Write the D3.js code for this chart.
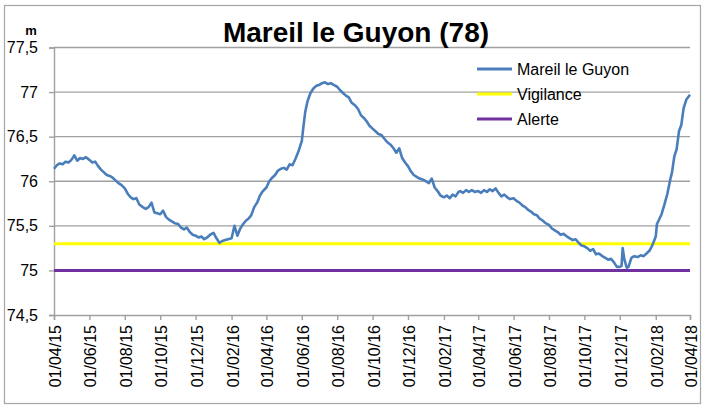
<!DOCTYPE html>
<html>
<head>
<meta charset="utf-8">
<script src="https://cdn.jsdelivr.net/npm/d3@7"></script>
<style>
  body { margin: 0; background: #fff; }
  svg { font-family: 'Liberation Sans', Arial, sans-serif; }
</style>
</head>
<body>
<div class="canvas"></div>
<script>
// piezometer readings (one line = one month)
const dates = [
  '2015-04-01','2015-04-06','2015-04-11','2015-04-16','2015-04-21','2015-04-26',
  '2015-05-01','2015-05-06','2015-05-11','2015-05-16','2015-05-21','2015-05-26',
  '2015-06-01','2015-06-06','2015-06-11','2015-06-16','2015-06-21','2015-06-26',
  '2015-07-01','2015-07-06','2015-07-11','2015-07-16','2015-07-21','2015-07-26',
  '2015-08-01','2015-08-06','2015-08-11','2015-08-16','2015-08-21','2015-08-26',
  '2015-09-01','2015-09-06','2015-09-11','2015-09-16','2015-09-21','2015-09-26',
  '2015-10-01','2015-10-06','2015-10-11','2015-10-16','2015-10-21','2015-10-26',
  '2015-11-01','2015-11-06','2015-11-11','2015-11-16','2015-11-21','2015-11-26',
  '2015-12-01','2015-12-06','2015-12-11','2015-12-16','2015-12-21','2015-12-26',
  '2016-01-01','2016-01-06','2016-01-11','2016-01-16','2016-01-21','2016-01-26',
  '2016-02-01','2016-02-06','2016-02-11','2016-02-16','2016-02-21','2016-02-26',
  '2016-03-01','2016-03-06','2016-03-11','2016-03-16','2016-03-21','2016-03-26',
  '2016-04-01','2016-04-06','2016-04-11','2016-04-16','2016-04-21','2016-04-26',
  '2016-05-01','2016-05-06','2016-05-11','2016-05-16','2016-05-21','2016-05-26',
  '2016-06-01','2016-06-04','2016-06-07','2016-06-11','2016-06-16','2016-06-21','2016-06-26',
  '2016-07-01','2016-07-06','2016-07-11','2016-07-16','2016-07-21','2016-07-26',
  '2016-08-01','2016-08-06','2016-08-11','2016-08-16','2016-08-21','2016-08-26',
  '2016-09-01','2016-09-06','2016-09-11','2016-09-16','2016-09-21','2016-09-26',
  '2016-10-01','2016-10-06','2016-10-11','2016-10-16','2016-10-21','2016-10-26',
  '2016-11-01','2016-11-06','2016-11-11','2016-11-16','2016-11-21','2016-11-26',
  '2016-12-01','2016-12-06','2016-12-11','2016-12-16','2016-12-21','2016-12-26',
  '2017-01-01','2017-01-06','2017-01-11','2017-01-16','2017-01-21','2017-01-26',
  '2017-02-01','2017-02-06','2017-02-11','2017-02-16','2017-02-21','2017-02-26',
  '2017-03-01','2017-03-06','2017-03-11','2017-03-16','2017-03-21','2017-03-26',
  '2017-04-01','2017-04-06','2017-04-11','2017-04-16','2017-04-21','2017-04-26',
  '2017-05-01','2017-05-06','2017-05-11','2017-05-16','2017-05-21','2017-05-26',
  '2017-06-01','2017-06-06','2017-06-11','2017-06-16','2017-06-21','2017-06-26',
  '2017-07-01','2017-07-06','2017-07-11','2017-07-16','2017-07-21','2017-07-26',
  '2017-08-01','2017-08-06','2017-08-11','2017-08-16','2017-08-21','2017-08-26',
  '2017-09-01','2017-09-06','2017-09-11','2017-09-16','2017-09-21','2017-09-26',
  '2017-10-01','2017-10-06','2017-10-11','2017-10-16','2017-10-21','2017-10-26',
  '2017-11-01','2017-11-06','2017-11-11','2017-11-16','2017-11-21','2017-11-26',
  '2017-12-01','2017-12-04','2017-12-06','2017-12-09','2017-12-13','2017-12-16','2017-12-21','2017-12-26',
  '2018-01-01','2018-01-06','2018-01-11','2018-01-16','2018-01-21','2018-01-26',
  '2018-02-01','2018-02-03','2018-02-06','2018-02-11','2018-02-16','2018-02-21','2018-02-26',
  '2018-03-01','2018-03-05','2018-03-09','2018-03-13','2018-03-17','2018-03-21','2018-03-26',
  '2018-04-01'
];

const levels = [
  76.14, 76.18, 76.20, 76.19, 76.22, 76.21,
  76.24, 76.29, 76.23, 76.26, 76.25, 76.27,
  76.24, 76.21, 76.22, 76.17, 76.13, 76.10,
  76.07, 76.06, 76.04, 76.01, 75.98, 75.96,
  75.92, 75.86, 75.82, 75.80, 75.81, 75.74,
  75.71, 75.69, 75.71, 75.76, 75.65, 75.64,
  75.63, 75.67, 75.60, 75.57, 75.55, 75.53,
  75.52, 75.48, 75.46, 75.48, 75.43, 75.40,
  75.39, 75.37, 75.38, 75.35, 75.37, 75.40,
  75.42, 75.36, 75.31, 75.33, 75.34, 75.35,
  75.36, 75.50, 75.39, 75.47, 75.52, 75.56,
  75.58, 75.62, 75.71, 75.76, 75.84, 75.89,
  75.93, 76.00, 76.04, 76.07, 76.12, 76.14,
  76.15, 76.13, 76.19, 76.18, 76.25, 76.33,
  76.45, 76.62, 76.78, 76.90, 76.99, 77.04, 77.07,
  77.08, 77.10, 77.11, 77.09, 77.10, 77.08,
  77.06, 77.02, 76.99, 76.96, 76.94, 76.88,
  76.85, 76.81, 76.74, 76.71, 76.67, 76.62,
  76.59, 76.56, 76.53, 76.52, 76.48, 76.44,
  76.41, 76.37, 76.32, 76.37, 76.26, 76.21,
  76.17, 76.11, 76.07, 76.05, 76.03, 76.02,
  76.00, 75.98, 76.03, 75.93, 75.89, 75.84,
  75.82, 75.84, 75.81, 75.85, 75.83, 75.88,
  75.89, 75.87, 75.90, 75.88, 75.90, 75.88,
  75.89, 75.87, 75.90, 75.88, 75.91, 75.89,
  75.92, 75.87, 75.83, 75.85, 75.82, 75.80,
  75.81, 75.78, 75.76, 75.73, 75.71, 75.68,
  75.66, 75.63, 75.62, 75.58, 75.56, 75.53,
  75.51, 75.47, 75.45, 75.43, 75.40, 75.41,
  75.38, 75.36, 75.34, 75.35, 75.31, 75.28,
  75.27, 75.25, 75.22, 75.24, 75.18, 75.19,
  75.16, 75.14, 75.12, 75.13, 75.09, 75.04,
  75.04, 75.05, 75.25, 75.12, 75.03, 75.04, 75.14, 75.16,
  75.15, 75.17, 75.16, 75.19, 75.22, 75.28,
  75.38, 75.52, 75.56, 75.63, 75.74, 75.86, 76.02,
  76.10, 76.28, 76.36, 76.56, 76.63, 76.82, 76.92,
  76.97
];

// series + thresholds
const seriesNames = ['Mareil le Guyon', 'Vigilance', 'Alerte'];
const seriesColors = ['#4a7ebb', '#ffff00', '#7030a0'];
const thresholds = [75.3, 75.0];

const yTicks = [74.5, 75, 75.5, 76, 76.5, 77, 77.5];

const dims = { width: 703, height: 408 };
const plot = { left: 54, right: 690, top: 47.5, bottom: 315 };

const svg = d3.select('.canvas')
    .append('svg')
    .attr('width', dims.width)
    .attr('height', dims.height);

// chart frame
svg.append('rect')
    .attr('x', 4.5).attr('y', 5.5)
    .attr('width', 696).attr('height', 398)
    .attr('fill', 'none')
    .attr('stroke', '#a6a6a6')
    .attr('stroke-width', 1.2);

const parse = d3.timeParse('%Y-%m-%d');
const data = dates.map((d, i) => ({ date: parse(d), value: levels[i] }));

const start = parse('2015-04-01');
const end = parse('2018-04-01');

const x = d3.scaleTime()
    .domain([start, end])
    .range([plot.left, plot.right]);

const y = d3.scaleLinear()
    .domain([74.5, 77.5])
    .range([plot.bottom, plot.top]);

const fmtY = d => d3.format('.1~f')(d).replace('.', ',');

// gridlines
svg.append('g')
  .selectAll('line')
  .data(yTicks.slice(1))
  .enter().append('line')
    .attr('x1', plot.left).attr('x2', plot.right)
    .attr('y1', d => y(d)).attr('y2', d => y(d))
    .attr('stroke', '#a0a0a0')
    .attr('stroke-width', 1.4);

// y axis
const yAxis = d3.axisLeft(y)
    .tickValues(yTicks)
    .tickSize(5)
    .tickPadding(11)
    .tickFormat(fmtY);

const yAxisGroup = svg.append('g')
    .attr('transform', `translate(${plot.left}, 0)`)
    .call(yAxis);

yAxisGroup.select('.domain').attr('stroke', '#a0a0a0').attr('stroke-width', 1.4);
yAxisGroup.selectAll('.tick line').attr('stroke', '#a0a0a0').attr('stroke-width', 1.4);
yAxisGroup.selectAll('text')
    .attr('fill', '#000')
    .style('font-size', '16px');

// x axis, one tick every two months from April 2015
const xAxis = d3.axisBottom(x)
    .tickValues(d3.timeMonth.range(start, d3.timeDay.offset(end, 1), 2))
    .tickSize(5)
    .tickFormat(d3.timeFormat('%d/%m/%y'));

const xAxisGroup = svg.append('g')
    .attr('transform', `translate(0, ${plot.bottom})`)
    .call(xAxis);

xAxisGroup.select('.domain').attr('stroke', '#a0a0a0').attr('stroke-width', 1.4);
xAxisGroup.selectAll('.tick line').attr('stroke', '#a0a0a0').attr('stroke-width', 1.4);
xAxisGroup.selectAll('text')
    .attr('fill', '#000')
    .style('font-size', '16px')
    .attr('text-anchor', 'end')
    .attr('dominant-baseline', 'central')
    .attr('transform', 'rotate(-90)')
    .attr('x', -10)
    .attr('y', 1)
    .attr('dy', null);

// threshold lines
svg.append('g')
  .selectAll('line')
  .data(thresholds)
  .enter().append('line')
    .attr('x1', plot.left).attr('x2', plot.right)
    .attr('y1', d => y(d)).attr('y2', d => y(d))
    .attr('stroke', (d, i) => seriesColors[i + 1])
    .attr('stroke-width', 3);

// level line
const line = d3.line()
    .x(d => x(d.date))
    .y(d => y(d.value));

svg.append('path')
    .datum(data)
    .attr('fill', 'none')
    .attr('stroke', seriesColors[0])
    .attr('stroke-width', 2.6)
    .attr('stroke-linejoin', 'round')
    .attr('d', line);

// title + unit
svg.append('text')
    .attr('x', 356).attr('y', 42)
    .attr('text-anchor', 'middle')
    .style('font-size', '28px')
    .style('font-weight', 'bold')
    .text('Mareil le Guyon (78)');

svg.append('text')
    .attr('x', 31).attr('y', 35)
    .attr('text-anchor', 'middle')
    .style('font-size', '13px')
    .style('font-weight', 'bold')
    .text('m');

// legend
const legendGroup = svg.append('g')
    .attr('transform', 'translate(477, 69)');

const items = legendGroup.selectAll('g')
    .data(seriesNames)
    .enter().append('g')
    .attr('transform', (d, i) => `translate(0, ${i * 25})`);

items.append('line')
    .attr('x1', 0).attr('x2', 35)
    .attr('stroke', (d, i) => seriesColors[i])
    .attr('stroke-width', 3);

items.append('text')
    .attr('x', 40)
    .attr('dominant-baseline', 'central')
    .style('font-size', '16px')
    .text(d => d);
</script>
</body>
</html>
